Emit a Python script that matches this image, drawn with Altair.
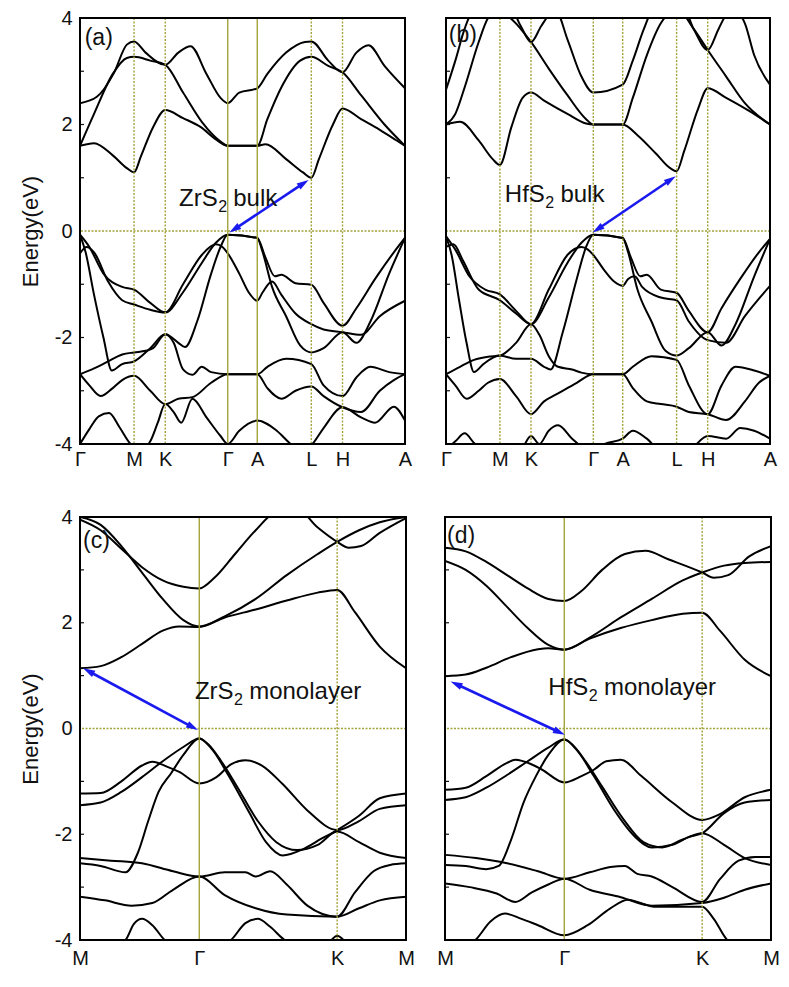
import math
import altair as alt
import pandas as pd

FONT = "Liberation Sans"
BAND_COLOR = "#000000"
SYM_COLOR = "#a3a33c"
ARROW_COLOR = "#1a1aee"

# ---------------- k-paths ----------------
BULK_K = [0.0, 0.577, 0.910, 1.577, 1.892, 2.469, 2.802, 3.469]
BULK_NAMES = ["Γ", "M", "K", "Γ", "A", "L", "H", "A"]
MONO_K = [0.0, 0.577, 1.244, 1.577]
MONO_NAMES = ["M", "Γ", "K", "M"]
Y_LABELS = [-4, -2, 0, 2, 4]
Y_TICKS = [-3, -2, -1, 1, 2, 3]
# symmetry lines drawn solid (the rest dotted), per panel
SOLID_LINES = [[1.577, 1.892], [], [0.577], [0.577]]

# ---------------- (a) ZrS2 bulk ----------------
A_BANDS = [
    [(0,1.6),(0.15,1.65),(0.35,1.42),(0.5,1.18),(0.577,1.1),(0.65,1.4),(0.78,1.95),(0.91,2.27),(1.1,2.12),(1.29,1.95),(1.45,1.72),(1.577,1.6),(1.892,1.6),(1.98,1.63),(2.2,1.35),(2.38,1.1),(2.469,1.0),(2.55,1.35),(2.7,2.0),(2.802,2.3),(3.0,2.1),(3.2,1.9),(3.38,1.7),(3.469,1.6)],
    [(0,1.6),(0.15,2.2),(0.35,2.95),(0.5,3.25),(0.577,3.27),(0.75,3.2),(0.91,3.12),(1.1,2.6),(1.3,2.05),(1.5,1.68),(1.577,1.6),(1.892,1.6),(2.0,2.1),(2.15,2.7),(2.35,3.2),(2.469,3.27),(2.65,3.1),(2.802,2.98),(3.0,2.55),(3.25,2.0),(3.469,1.6)],
    [(0,2.4),(0.18,2.52),(0.36,2.96),(0.5,3.5),(0.577,3.56),(0.7,3.35),(0.91,3.12),(1.05,3.35),(1.18,3.47),(1.35,2.95),(1.5,2.5),(1.577,2.4),(1.7,2.6),(1.892,2.68),(2.0,2.95),(2.2,3.35),(2.4,3.55),(2.469,3.56),(2.65,3.2),(2.802,2.98),(2.95,3.35),(3.08,3.49),(3.25,3.1),(3.469,2.68)],
    [(0,-0.07),(0.1,-0.3),(0.25,-0.8),(0.45,-1.05),(0.577,-1.1),(0.75,-1.35),(0.91,-1.53),(1.1,-1.15),(1.3,-0.6),(1.45,-0.22),(1.577,-0.07),(1.892,-0.13),(1.98,-0.5),(2.08,-0.85),(2.15,-0.82),(2.3,-0.98),(2.469,-1.01),(2.6,-1.35),(2.802,-1.78),(2.95,-1.45),(3.15,-0.9),(3.35,-0.4),(3.469,-0.13)],
    [(0,-0.07),(0.06,-0.4),(0.15,-1.2),(0.25,-2.0),(0.34,-2.62),(0.45,-2.5),(0.577,-2.45),(0.75,-2.2),(0.91,-1.94),(1.05,-2.1),(1.12,-2.18),(1.25,-1.7),(1.4,-0.8),(1.5,-0.3),(1.577,-0.07),(1.892,-0.13),(1.95,-0.4),(2.05,-1.05),(2.2,-1.6),(2.35,-2.15),(2.469,-2.28),(2.6,-2.2),(2.802,-1.9),(2.95,-2.1),(3.1,-1.7),(3.3,-0.8),(3.469,-0.13)],
    [(0,-0.42),(0.07,-0.3),(0.15,-0.4),(0.3,-0.95),(0.45,-1.3),(0.577,-1.38),(0.75,-1.48),(0.91,-1.53),(1.1,-1.0),(1.3,-0.45),(1.45,-0.25),(1.52,-0.3),(1.577,-0.42),(1.7,-0.8),(1.8,-1.15),(1.892,-1.31),(1.95,-1.15),(2.05,-0.95),(2.15,-1.2),(2.3,-1.55),(2.469,-1.75),(2.6,-1.85),(2.802,-1.9),(3.0,-1.95),(3.2,-1.6),(3.469,-1.31)],
    [(0,-2.69),(0.15,-2.58),(0.3,-2.45),(0.45,-2.32),(0.577,-2.28),(0.7,-2.25),(0.78,-2.2),(0.91,-1.94),(1.0,-2.1),(1.1,-2.6),(1.2,-2.7),(1.3,-2.55),(1.4,-2.65),(1.577,-2.69),(1.892,-2.69),(2.0,-2.55),(2.2,-2.4),(2.469,-2.5),(2.6,-2.9),(2.802,-3.1),(2.95,-2.75),(3.1,-2.55),(3.3,-2.65),(3.469,-2.69)],
    [(0,-2.69),(0.1,-2.9),(0.22,-3.1),(0.35,-2.95),(0.45,-2.8),(0.577,-2.72),(0.75,-3.0),(0.91,-3.25),(1.05,-3.15),(1.2,-3.12),(1.4,-2.85),(1.577,-2.69),(1.892,-2.69),(2.0,-2.95),(2.15,-3.15),(2.3,-3.0),(2.469,-2.92),(2.6,-3.1),(2.802,-3.31),(3.0,-3.4),(3.2,-3.0),(3.35,-2.8),(3.469,-2.69)],
    [(0,-4.0),(0.1,-3.72),(0.2,-3.48),(0.31,-3.42),(0.42,-3.68),(0.54,-4.0),(0.64,-4.12),(0.75,-3.95),(0.83,-3.6),(0.91,-3.25),(1.0,-3.4),(1.08,-3.6),(1.2,-3.15),(1.35,-3.5),(1.5,-3.85),(1.577,-4.0),(1.7,-3.75),(1.892,-3.56),(2.1,-3.75),(2.25,-4.0),(2.35,-4.12),(2.48,-4.0),(2.6,-3.7),(2.802,-3.31),(3.0,-3.5),(3.15,-3.6),(3.35,-3.3),(3.469,-3.56)],
]

# ---------------- (b) HfS2 bulk ----------------
B_BANDS = [
    [(0,2.0),(0.15,2.05),(0.35,1.7),(0.5,1.35),(0.577,1.24),(0.7,1.95),(0.82,2.5),(0.91,2.6),(1.05,2.45),(1.3,2.2),(1.5,2.02),(1.577,2.0),(1.892,2.0),(2.05,1.8),(2.25,1.45),(2.4,1.18),(2.469,1.12),(2.55,1.5),(2.7,2.3),(2.802,2.68),(3.0,2.5),(3.25,2.25),(3.469,2.0)],
    [(0,2.0),(0.1,2.2),(0.2,2.7),(0.35,3.55),(0.45,4.0),(0.52,4.12),(0.6,4.1),(0.72,3.95),(0.91,3.55),(1.1,3.05),(1.3,2.55),(1.5,2.1),(1.577,2.0),(1.892,2.0),(2.0,2.5),(2.15,3.3),(2.3,3.9),(2.4,4.1),(2.5,4.12),(2.65,3.8),(2.802,3.4),(3.0,2.9),(3.2,2.4),(3.469,2.0)],
    [(0,2.65),(0.1,3.2),(0.2,3.8),(0.26,4.05),(0.35,4.15),(0.7,4.15),(0.8,3.85),(0.91,3.55),(1.02,3.85),(1.1,4.05),(1.18,4.12),(1.3,3.6),(1.45,2.9),(1.577,2.6),(1.892,2.75),(2.0,3.2),(2.12,3.8),(2.2,4.1),(2.3,4.15),(2.55,4.15),(2.65,3.8),(2.802,3.4),(2.92,3.8),(3.0,4.05),(3.1,4.12),(3.2,3.9),(3.3,3.3),(3.469,2.75)],
    [(0,-0.1),(0.1,-0.35),(0.25,-0.85),(0.42,-1.1),(0.577,-1.19),(0.75,-1.5),(0.91,-1.75),(1.1,-1.25),(1.3,-0.6),(1.45,-0.22),(1.577,-0.07),(1.892,-0.13),(1.98,-0.5),(2.08,-0.85),(2.15,-0.82),(2.3,-1.1),(2.469,-1.16),(2.6,-1.5),(2.802,-1.9),(2.95,-1.45),(3.15,-0.9),(3.35,-0.4),(3.469,-0.15)],
    [(0,-0.1),(0.06,-0.45),(0.14,-1.3),(0.22,-2.1),(0.3,-2.65),(0.4,-2.5),(0.577,-2.34),(0.75,-2.4),(0.91,-2.4),(1.05,-2.55),(1.12,-2.6),(1.25,-1.9),(1.4,-0.9),(1.5,-0.3),(1.577,-0.07),(1.892,-0.13),(1.95,-0.4),(2.05,-1.1),(2.2,-1.7),(2.35,-2.25),(2.469,-2.34),(2.6,-2.2),(2.802,-1.9),(2.95,-2.15),(3.1,-1.75),(3.3,-0.85),(3.469,-0.15)],
    [(0,-0.3),(0.08,-0.25),(0.18,-0.55),(0.35,-1.1),(0.577,-1.3),(0.75,-1.55),(0.91,-1.75),(1.1,-1.1),(1.3,-0.45),(1.45,-0.3),(1.52,-0.35),(1.577,-0.45),(1.7,-0.75),(1.8,-0.95),(1.892,-1.03),(1.95,-0.9),(2.02,-0.85),(2.1,-1.05),(2.3,-1.25),(2.469,-1.3),(2.6,-1.7),(2.802,-2.05),(3.0,-2.1),(3.2,-1.6),(3.469,-1.03)],
    [(0,-2.69),(0.15,-2.55),(0.3,-2.42),(0.45,-2.36),(0.577,-2.34),(0.75,-2.1),(0.91,-1.75),(1.0,-1.95),(1.1,-2.35),(1.2,-2.55),(1.35,-2.6),(1.45,-2.66),(1.577,-2.69),(1.892,-2.69),(2.0,-2.55),(2.2,-2.35),(2.469,-2.42),(2.6,-2.9),(2.802,-3.44),(2.95,-2.9),(3.1,-2.55),(3.3,-2.62),(3.469,-2.72)],
    [(0,-2.69),(0.1,-2.9),(0.22,-3.15),(0.35,-3.0),(0.45,-2.85),(0.577,-2.78),(0.75,-3.1),(0.91,-3.44),(1.05,-3.2),(1.2,-3.05),(1.4,-2.85),(1.577,-2.69),(1.892,-2.69),(2.0,-2.95),(2.15,-3.2),(2.3,-3.25),(2.469,-3.3),(2.6,-3.4),(2.802,-3.44),(3.0,-3.55),(3.2,-3.2),(3.35,-2.85),(3.469,-2.72)],
    [(0,-4.1),(0.1,-3.95),(0.2,-3.8),(0.3,-3.98),(0.4,-4.12),(0.6,-4.15),(0.8,-4.1),(0.91,-3.85),(1.0,-4.0),(1.1,-3.75),(1.2,-3.65),(1.35,-3.9),(1.5,-4.1),(1.577,-4.12),(1.7,-4.0),(1.892,-3.9),(2.0,-3.75),(2.15,-3.9),(2.3,-4.12),(2.6,-4.1),(2.802,-3.85),(3.0,-3.9),(3.15,-3.7),(3.3,-3.75),(3.469,-3.9)],
]

# ---------------- (c) ZrS2 monolayer ----------------
C_BANDS = [
    [(0,1.14),(0.1,1.18),(0.2,1.35),(0.3,1.6),(0.4,1.85),(0.48,1.93),(0.577,1.92),(0.7,2.1),(0.85,2.25),(1.0,2.42),(1.15,2.57),(1.244,2.62),(1.33,2.2),(1.45,1.55),(1.577,1.14)],
    [(0,4.0),(0.1,3.85),(0.2,3.45),(0.3,2.95),(0.4,2.45),(0.5,2.05),(0.577,1.93),(0.7,2.12),(0.85,2.45),(1.0,2.9),(1.15,3.3),(1.244,3.53),(1.35,3.75),(1.45,3.9),(1.577,4.0)],
    [(0,3.95),(0.1,3.75),(0.2,3.4),(0.3,3.05),(0.4,2.8),(0.5,2.68),(0.577,2.65),(0.65,2.85),(0.75,3.3),(0.85,3.75),(0.95,4.1),(1.05,4.15),(1.15,3.8),(1.244,3.53),(1.3,3.42),(1.36,3.45),(1.45,3.7),(1.577,3.98)],
    [(0,-1.45),(0.1,-1.4),(0.2,-1.2),(0.3,-0.92),(0.4,-0.62),(0.5,-0.35),(0.577,-0.19),(0.64,-0.4),(0.72,-0.9),(0.82,-1.6),(0.9,-2.15),(0.98,-2.4),(1.08,-2.28),(1.17,-2.08),(1.244,-1.92),(1.35,-1.65),(1.45,-1.32),(1.577,-1.23)],
    [(0,-2.55),(0.1,-2.6),(0.22,-2.72),(0.28,-2.35),(0.33,-1.75),(0.38,-1.2),(0.44,-0.85),(0.5,-0.5),(0.577,-0.19),(0.62,-0.3),(0.68,-0.6),(0.76,-1.1),(0.86,-1.75),(0.95,-2.15),(1.05,-2.3),(1.15,-2.2),(1.244,-1.95),(1.35,-2.15),(1.45,-2.35),(1.577,-2.45)],
    [(0,-1.23),(0.1,-1.22),(0.2,-1.0),(0.3,-0.7),(0.35,-0.63),(0.42,-0.72),(0.48,-0.82),(0.577,-1.04),(0.66,-0.92),(0.73,-0.68),(0.8,-0.6),(0.88,-0.7),(0.98,-1.05),(1.1,-1.55),(1.244,-1.92),(1.35,-1.75),(1.45,-1.52),(1.577,-1.45)],
    [(0,-2.45),(0.15,-2.5),(0.3,-2.55),(0.45,-2.7),(0.577,-2.8),(0.7,-2.72),(0.8,-2.72),(0.85,-2.8),(0.92,-2.7),(1.0,-2.95),(1.1,-3.35),(1.244,-3.56),(1.33,-3.1),(1.42,-2.7),(1.5,-2.58),(1.577,-2.55)],
    [(0,-3.18),(0.12,-3.25),(0.25,-3.35),(0.35,-3.3),(0.45,-3.05),(0.577,-2.8),(0.7,-3.15),(0.85,-3.4),(1.0,-3.52),(1.244,-3.56),(1.35,-3.4),(1.45,-3.25),(1.577,-3.18)],
    [(0,-4.15),(0.15,-4.12),(0.22,-4.0),(0.26,-3.7),(0.3,-3.6),(0.35,-3.72),(0.41,-4.0),(0.48,-4.12),(0.6,-4.15),(0.68,-4.1),(0.73,-4.0),(0.8,-3.68),(0.86,-3.6),(0.92,-3.75),(0.99,-4.0),(1.08,-4.12),(1.2,-4.05),(1.244,-3.92),(1.29,-4.05),(1.38,-4.15),(1.577,-4.15)],
]

# ---------------- (d) HfS2 monolayer ----------------
D_BANDS = [
    [(0,0.99),(0.1,1.02),(0.2,1.15),(0.32,1.35),(0.45,1.5),(0.5,1.52),(0.577,1.49),(0.7,1.7),(0.85,1.9),(1.0,2.05),(1.15,2.17),(1.244,2.19),(1.33,1.85),(1.45,1.3),(1.577,0.99)],
    [(0,3.17),(0.1,3.0),(0.2,2.7),(0.3,2.3),(0.4,1.9),(0.5,1.58),(0.577,1.49),(0.7,1.72),(0.85,2.1),(1.0,2.45),(1.15,2.8),(1.244,2.95),(1.35,3.08),(1.45,3.13),(1.577,3.15)],
    [(0,3.42),(0.1,3.35),(0.2,3.15),(0.3,2.9),(0.4,2.65),(0.5,2.45),(0.577,2.41),(0.66,2.6),(0.76,3.0),(0.87,3.3),(0.97,3.36),(1.08,3.2),(1.244,2.95),(1.3,2.85),(1.37,2.9),(1.47,3.25),(1.577,3.45)],
    [(0,-1.35),(0.1,-1.3),(0.2,-1.12),(0.3,-0.88),(0.4,-0.62),(0.5,-0.36),(0.577,-0.21),(0.64,-0.42),(0.72,-0.9),(0.82,-1.55),(0.92,-2.05),(1.0,-2.25),(1.1,-2.2),(1.18,-2.05),(1.244,-1.98),(1.35,-1.6),(1.45,-1.4),(1.577,-1.35)],
    [(0,-2.58),(0.1,-2.6),(0.2,-2.66),(0.26,-2.6),(0.32,-2.1),(0.38,-1.4),(0.44,-0.9),(0.5,-0.5),(0.577,-0.21),(0.62,-0.32),(0.68,-0.62),(0.76,-1.1),(0.86,-1.7),(0.96,-2.15),(1.05,-2.25),(1.15,-2.1),(1.244,-1.98),(1.35,-2.2),(1.45,-2.45),(1.577,-2.58)],
    [(0,-1.16),(0.1,-1.12),(0.2,-0.9),(0.3,-0.65),(0.34,-0.59),(0.42,-0.68),(0.47,-0.78),(0.577,-1.02),(0.66,-0.9),(0.72,-0.78),(0.78,-0.62),(0.85,-0.59),(0.95,-0.9),(1.1,-1.4),(1.244,-1.73),(1.33,-1.62),(1.45,-1.3),(1.577,-1.16)],
    [(0,-2.39),(0.15,-2.45),(0.3,-2.55),(0.45,-2.7),(0.577,-2.84),(0.7,-2.72),(0.8,-2.62),(0.87,-2.6),(0.93,-2.75),(1.0,-2.8),(1.1,-3.0),(1.244,-3.28),(1.33,-2.85),(1.42,-2.5),(1.5,-2.43),(1.577,-2.43)],
    [(0,-2.93),(0.12,-3.0),(0.25,-3.12),(0.34,-3.28),(0.42,-3.1),(0.5,-2.95),(0.577,-2.84),(0.7,-3.05),(0.85,-3.19),(1.0,-3.35),(1.244,-3.3),(1.35,-3.2),(1.45,-3.05),(1.577,-2.93)],
    [(0,-4.15),(0.1,-4.12),(0.147,-4.0),(0.22,-3.65),(0.29,-3.5),(0.37,-3.6),(0.45,-3.72),(0.577,-3.91),(0.69,-3.72),(0.8,-3.4),(0.885,-3.24),(0.96,-3.32),(1.01,-3.37),(1.244,-3.37),(1.3,-3.6),(1.365,-4.0),(1.42,-4.12),(1.577,-4.15)],
]

# ---------------- annotations ----------------
LETTERS = ["(a)", "(b)", "(c)", "(d)"]
LETTER_POS = [(0.05, 3.62), (0.03, 3.68), (0.015, 3.54), (0.01, 3.64)]
MATERIALS = ["ZrS", "HfS", "ZrS", "HfS"]
SUFFIXES = ["bulk", "bulk", "monolayer", "monolayer"]
TEXT_POS = [(1.057, 0.6), (0.63, 0.68), (0.556, 0.69), (0.5, 0.76)]
ARROWS = [
    [(1.594, -0.03), (2.44, 0.96)],
    [(1.57, -0.03), (2.46, 1.03)],
    [(0.571, -0.03), (0.015, 1.14)],
    [(0.58, -0.12), (0.027, 0.89)],
]
SIZES = [(325, 426), (324, 426), (326, 423), (326, 423)]
X_LABEL_PAD = [5, 5, 8, 8]

ARROW_HEAD = "M0,0L0.5,1.7L-0.5,1.7Z"
TEXT_SIZE = 24
SUB_SIZE = 16


def label_expr(kpos, names):
    expr = "'" + names[-1] + "'"
    for i in range(len(kpos) - 2, -1, -1):
        mid = (kpos[i] + kpos[i + 1]) / 2
        expr = f"datum.value < {mid:.4f} ? '{names[i]}' : ({expr})"
    return expr


def make_panel(idx, bands, kpos, names, show_y):
    width, height = SIZES[idx]
    kmax = kpos[-1]
    xs = alt.Scale(domain=[0, kmax], nice=False, zero=False)
    ys = alt.Scale(domain=[-4, 4], nice=False, zero=False)
    xaxis = alt.Axis(values=kpos, labelExpr=label_expr(kpos, names), grid=False, ticks=False,
                     domain=False, labelFontSize=20,
                     labelFont={"condition": {"test": "datum.label == 'Γ'", "value": "Liberation Serif"},
                                "value": FONT},
                     labelPadding=X_LABEL_PAD[idx], labelColor="#111", labelFlush=False,
                     labelOverlap=False, title=None)
    if show_y:
        yaxis = alt.Axis(values=Y_LABELS, labelExpr="'' + datum.value", grid=False, ticks=False,
                         domain=False, labelFontSize=20, labelFont=FONT, labelPadding=8,
                         labelColor="#111", title="Energy(eV)", titleFont=FONT, titleFontSize=22,
                         titleFontWeight="normal", titleColor="#111", titlePadding=12,
                         labelFlush=False, labelOverlap=False)
    else:
        yaxis = None
    X = alt.X("k:Q", scale=xs, axis=xaxis)
    Y = alt.Y("E:Q", scale=ys, axis=yaxis)

    rows = []
    for b, band in enumerate(bands):
        for k, e in band:
            rows.append({"band": b, "k": k, "E": e})
    bands_df = pd.DataFrame(rows)

    lines = alt.Chart(bands_df).mark_line(interpolate="monotone", clip=True, color=BAND_COLOR,
                                          strokeWidth=2).encode(x=X, y=Y, detail="band:N")

    inner = kpos[1:-1]
    solid = [k for k in inner if k in SOLID_LINES[idx]]
    dotted = [k for k in inner if k not in SOLID_LINES[idx]]
    layers = [lines]
    if dotted:
        layers.append(alt.Chart(pd.DataFrame({"k": dotted})).mark_rule(
            color=SYM_COLOR, strokeWidth=1.4, strokeDash=[2, 1.5]).encode(x=X))
    if solid:
        layers.append(alt.Chart(pd.DataFrame({"k": solid})).mark_rule(
            color=SYM_COLOR, strokeWidth=1.4).encode(x=X))
    hdf = pd.DataFrame({"E": [0]})
    layers.append(alt.Chart(hdf).mark_rule(color=SYM_COLOR, strokeWidth=1.4, strokeDash=[2, 1.5]).encode(y=Y))
    tdf = pd.DataFrame({"E": Y_TICKS})
    layers.append(alt.Chart(tdf).mark_rule(color="#111", strokeWidth=1.2).encode(
        y=Y, x=alt.value(0), x2=alt.value(4)))

    # arrow
    (k1, e1), (k2, e2) = ARROWS[idx]
    px = width / kmax
    py = height / 8.0
    dx = (k2 - k1) * px
    dy = -(e2 - e1) * py
    L = math.hypot(dx, dy)
    f = 9.0 / L
    adf = pd.DataFrame([
        {"k": k1 + (k2 - k1) * f, "E": e1 + (e2 - e1) * f},
        {"k": k2 - (k2 - k1) * f, "E": e2 - (e2 - e1) * f},
    ])
    ang2 = math.degrees(math.atan2(dx, -dy)) % 360
    ang1 = (ang2 + 180) % 360
    layers.append(alt.Chart(adf).mark_line(color=ARROW_COLOR, strokeWidth=2.6).encode(x=X, y=Y))
    hdf2 = pd.DataFrame([{"k": k1, "E": e1, "ang": ang1}, {"k": k2, "E": e2, "ang": ang2}])
    layers.append(alt.Chart(hdf2).mark_point(shape=ARROW_HEAD, filled=True, color=ARROW_COLOR, size=200,
                                             opacity=1, strokeWidth=0).encode(
        x=X, y=Y, angle=alt.Angle("ang:Q", scale=None)))

    # texts
    lk, le = LETTER_POS[idx]
    layers.append(alt.Chart(pd.DataFrame([{"k": lk, "E": le}])).mark_text(
        text=LETTERS[idx], align="left", baseline="middle", fontSize=23, font=FONT, color="#111").encode(x=X, y=Y))
    tk, te = TEXT_POS[idx]
    tpos = pd.DataFrame([{"k": tk, "E": te}])
    mat = MATERIALS[idx]
    mat_w = (1.611 if mat == "ZrS" else 1.667) * TEXT_SIZE
    sub_w = 0.556 * SUB_SIZE
    space_w = 0.278 * TEXT_SIZE
    layers.append(alt.Chart(tpos).mark_text(text=mat, align="left", baseline="middle", fontSize=TEXT_SIZE,
                                            font=FONT, color="#111").encode(x=X, y=Y))
    layers.append(alt.Chart(tpos).mark_text(text="2", align="left", baseline="middle", fontSize=SUB_SIZE,
                                            font=FONT, color="#111", dx=mat_w + 0.5, dy=8).encode(x=X, y=Y))
    layers.append(alt.Chart(tpos).mark_text(text=SUFFIXES[idx], align="left", baseline="middle",
                                            fontSize=TEXT_SIZE, font=FONT, color="#111",
                                            dx=mat_w + sub_w + space_w).encode(x=X, y=Y))

    layers.append(alt.Chart(pd.DataFrame({"f": [0]})).mark_rect(
        filled=False, fillOpacity=0, stroke="black", strokeWidth=2).encode(
        x=alt.value(0), x2=alt.value(width), y=alt.value(0), y2=alt.value(height)))

    return alt.layer(*layers).properties(width=width, height=height)


pa = make_panel(0, A_BANDS, BULK_K, BULK_NAMES, True)
pb = make_panel(1, B_BANDS, BULK_K, BULK_NAMES, False)
pc = make_panel(2, C_BANDS, MONO_K, MONO_NAMES, True)
pd_ = make_panel(3, D_BANDS, MONO_K, MONO_NAMES, False)

top = alt.hconcat(pa, pb, spacing=28)
bottom = alt.hconcat(pc, pd_, spacing=21)
chart = alt.vconcat(top, bottom, spacing=38).properties(
    padding={"left": 11, "top": 0, "right": 0, "bottom": 0}
).configure(background="white").configure_view(strokeWidth=0)

chart.save("out.html", embed_options={"renderer": "svg", "actions": False})
